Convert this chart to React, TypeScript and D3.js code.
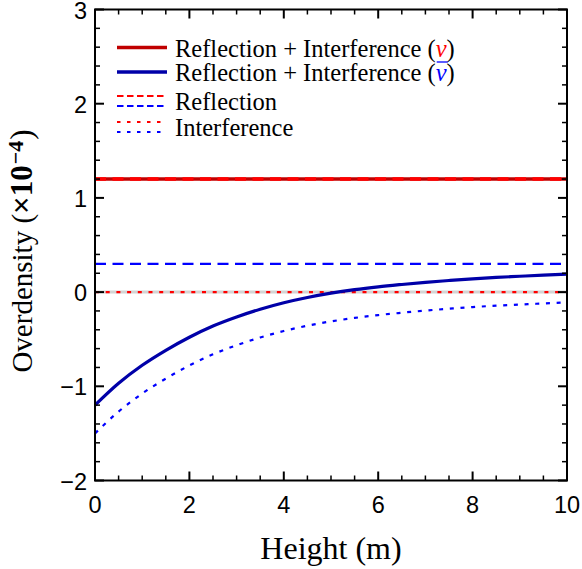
import React, { useLayoutEffect, useRef, useState } from 'react';
import * as d3 from 'd3';

// values, overdensity in units of 1e-4
const heights = [0, 0.5, 1, 1.5, 2, 2.5, 3, 3.5, 4, 4.5, 5, 5.5, 6, 6.5, 7, 7.5, 8, 8.5, 9, 9.5, 10];
const totalNuBar = [-1.2, -0.968, -0.777, -0.618, -0.479, -0.36, -0.264, -0.182, -0.113, -0.057, -0.011, 0.026, 0.056, 0.081, 0.104, 0.123, 0.141, 0.156, 0.168, 0.18, 0.19];
const interfNuBar = [-1.5, -1.268, -1.077, -0.918, -0.779, -0.66, -0.564, -0.482, -0.413, -0.357, -0.311, -0.274, -0.244, -0.219, -0.196, -0.177, -0.159, -0.144, -0.132, -0.12, -0.11];
const flatHeights = [0, 10];
const totalNu = [1.2, 1.2];
const reflNu = [1.2, 1.2];
const interfNu = [0, 0];
const reflNuBar = [0.3, 0.3];

const xTicks = [0, 2, 4, 6, 8, 10];
const yTicks = [-2, -1, 0, 1, 2, 3];

const W = 582;
const H = 569;
const margin = { top: 9.5, right: 15, bottom: 88.5, left: 95 };

const serif = '"Liberation Serif", "Times New Roman", serif';
const sans = '"Liberation Sans", Arial, sans-serif';

const App: React.FC = () => {
  const nuBarRef = useRef<SVGTSpanElement | null>(null);
  const [bar, setBar] = useState<{ x: number; w: number } | null>(null);

  useLayoutEffect(() => {
    if (!nuBarRef.current) return;
    const b = nuBarRef.current.getBBox();
    setBar({ x: b.x, w: b.width });
  }, []);

  const x = d3.scaleLinear().domain([0, 10]).range([margin.left, W - margin.right]);
  const y = d3.scaleLinear().domain([-2, 3]).range([H - margin.bottom, margin.top]);

  const line = (xs: number[], ys: number[]) =>
    d3.line<number>()
      .x((_, i) => x(xs[i]))
      .y(d => y(d))
      .curve(d3.curveMonotoneX)(ys) || '';

  const x0 = x(0), x1 = x(10), y0 = y(-2), y1 = y(3);

  // minor ticks
  const xMinor = d3.range(0, 10.001, 0.5).filter(v => Math.abs(v % 2) > 1e-6);
  const yMinor = d3.range(-2, 3.001, 0.2).filter(v => Math.abs(v - Math.round(v)) > 1e-6);
  const major = 9;
  const minor = 5;

  const legendX0 = 117;
  const legendX1 = 167;
  const textX = 175;

  return (
    <svg width={W} height={H} style={{ display: 'block', position: 'absolute', left: 0, top: 0 }}>
      <rect width={W} height={H} fill="#fff" />

      {/* zero line */}
      <line x1={x0} x2={x1} y1={y(0)} y2={y(0)} stroke="#d4d4d4" strokeWidth={3} />

      {/* series */}
      <path d={line(flatHeights, totalNu)} fill="none" stroke="#c00000" strokeWidth={3.5} />
      <path d={line(flatHeights, reflNu)} fill="none" stroke="#ff0000" strokeWidth={3.5} strokeDasharray="11,6.5" />
      <path d={line(flatHeights, interfNu)} fill="none" stroke="#ff0000" strokeWidth={2.2} strokeDasharray="4,6.7" />
      <path d={line(flatHeights, reflNuBar)} fill="none" stroke="#0000ff" strokeWidth={2.2} strokeDasharray="11,6.5" />
      <path d={line(heights, interfNuBar)} fill="none" stroke="#0000ff" strokeWidth={2.2} strokeDasharray="4,6.7" />
      <path d={line(heights, totalNuBar)} fill="none" stroke="#0000a8" strokeWidth={3.2} />

      {/* frame */}
      <rect x={x0} y={y1} width={x1 - x0} height={y0 - y1} fill="none" stroke="#000" strokeWidth={2} />

      {/* ticks */}
      {xTicks.map(t => (
        <g key={'xt' + t}>
          <line x1={x(t)} x2={x(t)} y1={y0} y2={y0 - major} stroke="#000" strokeWidth={2} />
          <line x1={x(t)} x2={x(t)} y1={y1} y2={y1 + major} stroke="#000" strokeWidth={2} />
          <text x={x(t)} y={y0 + 32} textAnchor="middle" fontFamily={sans} fontSize={23.5}>{t}</text>
        </g>
      ))}
      {xMinor.map(t => (
        <g key={'xm' + t}>
          <line x1={x(t)} x2={x(t)} y1={y0} y2={y0 - minor} stroke="#000" strokeWidth={1.5} />
          <line x1={x(t)} x2={x(t)} y1={y1} y2={y1 + minor} stroke="#000" strokeWidth={1.5} />
        </g>
      ))}
      {yTicks.map(t => (
        <g key={'yt' + t}>
          <line x1={x0} x2={x0 + major} y1={y(t)} y2={y(t)} stroke="#000" strokeWidth={2} />
          <line x1={x1} x2={x1 - major} y1={y(t)} y2={y(t)} stroke="#000" strokeWidth={2} />
          <text x={87} y={y(t) + 9} textAnchor="end" fontFamily={sans} fontSize={23.5}>
            {t < 0 ? '\u2212' + Math.abs(t) : t}
          </text>
        </g>
      ))}
      {yMinor.map(t => (
        <g key={'ym' + t.toFixed(1)}>
          <line x1={x0} x2={x0 + minor} y1={y(t)} y2={y(t)} stroke="#000" strokeWidth={1.5} />
          <line x1={x1} x2={x1 - minor} y1={y(t)} y2={y(t)} stroke="#000" strokeWidth={1.5} />
        </g>
      ))}

      {/* axis titles */}
      <text x={(x0 + x1) / 2} y={559} textAnchor="middle" fontFamily={serif} fontSize={32}>Height (m)</text>
      <text transform="translate(32, 251) rotate(-90)" textAnchor="middle" fontFamily={serif} fontSize={29}>
        Overdensity (<tspan fontWeight="bold" fontSize={31}>{'\u00d710'}</tspan>
        <tspan fontWeight="bold" fontSize={22} dy={-9.5} dx={1}>{'\u22124'}</tspan>
        <tspan dy={9.5} dx={1} fontSize={31}>)</tspan>
      </text>

      {/* legend */}
      <g fontFamily={serif} fontSize={24.5}>
        <line x1={legendX0} x2={legendX1} y1={47.5} y2={47.5} stroke="#c00000" strokeWidth={3.5} />
        <text x={textX} y={56.5}>
          Reflection + Interference (<tspan fill="#ff0000" fontStyle="italic">{'\u03bd'}</tspan>)
        </text>
        <line x1={legendX0} x2={legendX1} y1={72} y2={72} stroke="#0000a8" strokeWidth={3.5} />
        <text x={textX} y={81}>
          Reflection + Interference (<tspan ref={nuBarRef} fill="#0000ff" fontStyle="italic">{'\u03bd'}</tspan>)
        </text>
        {bar && (
          <line x1={bar.x + 1} x2={bar.x + bar.w + 1} y1={62} y2={62} stroke="#0000ff" strokeWidth={1.3} />
        )}
        <line x1={legendX0} x2={legendX1} y1={96} y2={96} stroke="#ff0000" strokeWidth={2} strokeDasharray="6.5,3.5" />
        <line x1={legendX0} x2={legendX1} y1={106} y2={106} stroke="#0000ff" strokeWidth={2} strokeDasharray="6.5,3.5" />
        <text x={textX} y={110}>Reflection</text>
        <line x1={legendX0} x2={legendX1} y1={122} y2={122} stroke="#ff0000" strokeWidth={2} strokeDasharray="3.5,6.5" />
        <line x1={legendX0} x2={legendX1} y1={132} y2={132} stroke="#0000ff" strokeWidth={2} strokeDasharray="3.5,6.5" />
        <text x={textX} y={135.5}>Interference</text>
      </g>
    </svg>
  );
};

export default App;
